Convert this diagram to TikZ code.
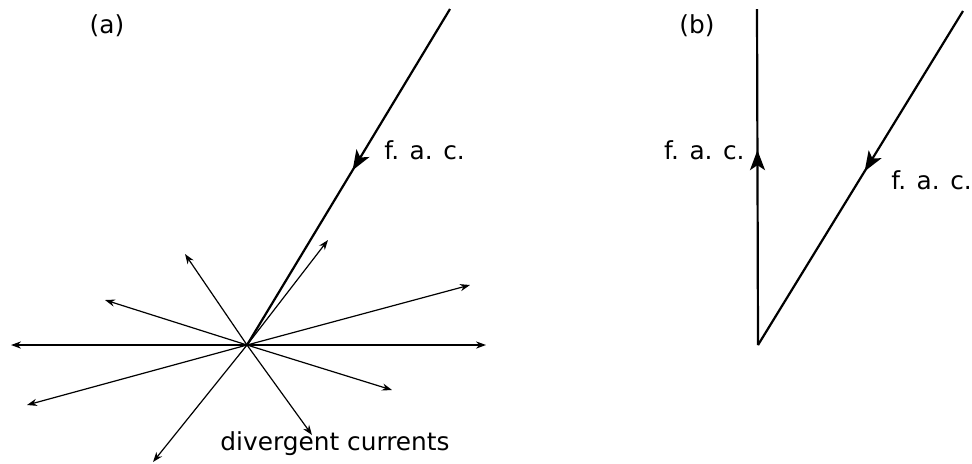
\documentclass[tikz,border=0pt]{standalone}
\usepackage{fontspec}
\setmainfont{DejaVu Sans}
\usetikzlibrary{arrows.meta,decorations.markings}
\tikzset{
  ray/.style={line width=0.6pt,-{Stealth[length=5pt,width=3.6pt]}},
  fac/.style={line width=1.1pt,postaction={decorate},
    decoration={markings,mark=at position #1 with {\arrow{Stealth[length=10pt,width=7.5pt,inset=2.5pt]}}}},
  lab/.style={font=\fontsize{12.4}{15}\selectfont,inner sep=0pt}
}
\begin{document}
\begin{tikzpicture}[x=0.5pt,y=-0.5pt]
  \useasboundingbox (0,0) rectangle (972,463);
  % (a) incoming current and the spreading currents
  \node[lab] (pa) at (107,26) {(a)};
  \coordinate (o) at (247,345);
  \coordinate (atop) at (450,9);
  \foreach \n/\x/\y in {1/185/254,2/105/300,3/11/345,4/27/405,5/153/462,
                        6/312/435,7/392/390,8/486/345,9/470/285,10/328/240}{
     \coordinate (r\n) at (\x,\y);
     \draw[ray] (o) -- (r\n);}
  \draw[fac=0.48] (atop) -- (o);
  \node[lab,anchor=west] (faca) at (384,150) {f. a. c.};
  \node[lab] (div) at (335,444) {divergent currents};
  % (b)
  \node[lab] (pb) at (697,26) {(b)};
  \coordinate (ob) at (758,345);
  \coordinate (bup) at (757,9);
  \coordinate (btop) at (963,11);
  \draw[fac=0.58] (ob) -- (bup);
  \draw[fac=0.48] (btop) -- (ob);
  \node[lab,anchor=east] (facb1) at (745,150) {f. a. c.};
  \node[lab,anchor=west] (facb2) at (891,180) {f. a. c.};
\end{tikzpicture}
\end{document}
